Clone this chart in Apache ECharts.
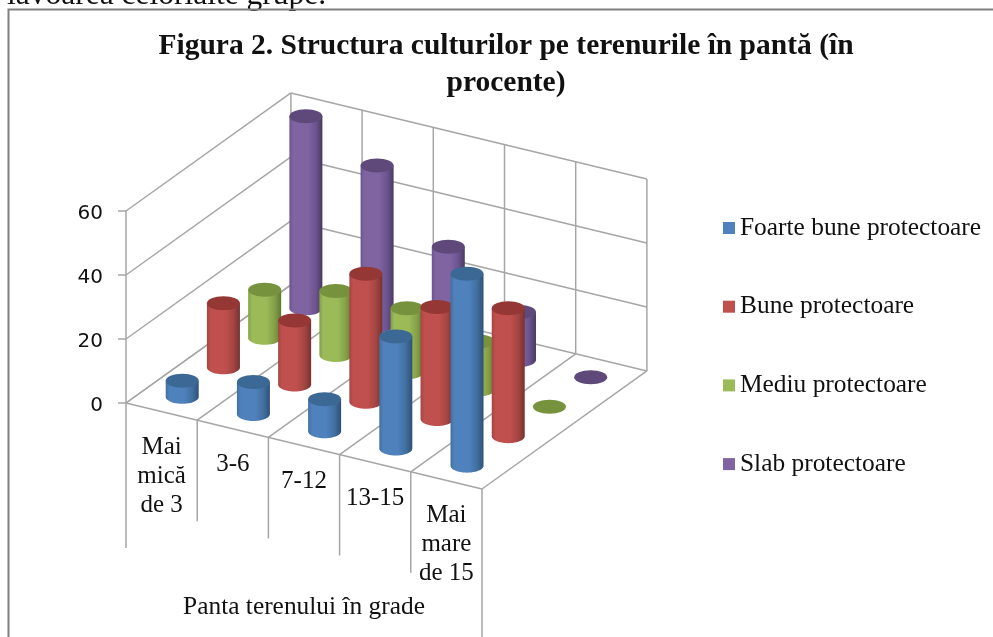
<!DOCTYPE html>
<html><head><meta charset="utf-8">
<style>html,body{margin:0;padding:0;background:#fff}#c{width:993px;height:637px}</style>
<script src="https://cdn.jsdelivr.net/npm/echarts@6/dist/echarts.min.js"></script>
</head><body><div id="c"></div>
<script>
const categories = ['Mai\nmică\nde 3', '3-6', '7-12', '13-15', 'Mai\nmare\nde 15'];
const valueTicks = [0, 20, 40, 60];
const foarteBune = [5, 10, 10, 35, 60];
const bune = [20, 20, 40, 35, 40];
const mediu = [15, 20, 20, 15, 0];
const slab = [60, 50, 30, 15, 0];
const seriesNames = ['Foarte bune protectoare', 'Bune protectoare', 'Mediu protectoare', 'Slab protectoare'];
const seriesValues = [foarteBune, bune, mediu, slab];
const palette = [
  {base:'#4f81bd', top:'#3c6896', edge:'#2f5078', left:'#41709f'},
  {base:'#c0504d', top:'#953735', edge:'#763230', left:'#a54543'},
  {base:'#9bbb59', top:'#76923c', edge:'#5f7a2f', left:'#84a048'},
  {base:'#8064a2', top:'#5f497a', edge:'#4a3a60', left:'#6c5490'}
];
const axisName = 'Panta terenului în grade';
const titleText = 'Figura 2. Structura culturilor pe terenurile în pantă (în\nprocente)';
const topText = 'lavoarea celorlalte grupe.';
const FONT = '"Liberation Serif"';
const LINE = '#a6a6a6';

const nC = categories.length, nS = seriesValues.length;
const dx = 0.579, dCat = 5.375, dSer = 9.22;
function P(api, c, s, v){ return api.coord([c + s*dx, v - c*dCat + s*dSer]); }

function line(p, q, w){
  return {type:'line', shape:{x1:p[0],y1:p[1],x2:q[0],y2:q[1]}, style:{stroke:LINE, lineWidth:w||1.5}, silent:true};
}
function renderFrame(params, api){
  const ch = [];
  const vMax = valueTicks[valueTicks.length-1];
  valueTicks.forEach(v=>{
    ch.push(line(P(api,0,0,v),P(api,0,nS,v)));
    ch.push(line(P(api,0,nS,v),P(api,nC,nS,v)));
  });
  for(let c=0;c<=nC;c++){
    ch.push(line(P(api,c,nS,0),P(api,c,nS,vMax)));
    ch.push(line(P(api,c,0,0),P(api,c,nS,0)));
  }
  ch.push(line(P(api,0,0,0),P(api,nC,0,0)));
  for(let c=0;c<=nC;c++){
    const p = P(api,c,0,0);
    const len = c===0 ? 145 : (c===nC ? 150 : 101);
    ch.push(line(p,[p[0],p[1]+len]));
  }
  categories.forEach((t,c)=>{
    const p = P(api,c+0.5,0,0);
    ch.push({type:'text', silent:true, style:{text:t, x:p[0], y:p[1]+21, align:'center', verticalAlign:'top',
      font:'25px '+FONT, lineHeight:29, fill:'#111'}});
  });
  const m = P(api,2.5,0,0);
  ch.push({type:'text', silent:true, style:{text:axisName, x:m[0], y:607, align:'center', verticalAlign:'middle',
    font:'25.4px '+FONT, fill:'#111'}});
  return {type:'group', children:ch};
}
function renderCyl(si){
  return function(params, api){
    const c = api.value(0), v = api.value(2), s = si;
    const base = P(api,c+0.5,s+0.5,0), top = P(api,c+0.5,s+0.5,v);
    const rx = 16.5, ry = 7, pal = palette[s], ch = [];
    if(v>0){
      const pts = [[base[0]-rx,top[1]],[base[0]+rx,top[1]]];
      for(let i=0;i<=24;i++){ const a=Math.PI*i/24; pts.push([base[0]+rx*Math.cos(a),base[1]+ry*Math.sin(a)]); }
      ch.push({type:'polygon', silent:true, shape:{points:pts}, style:{fill:new echarts.graphic.LinearGradient(0,0,1,0,[
        {offset:0,color:pal.left},{offset:0.12,color:pal.base},{offset:0.55,color:pal.base},{offset:0.8,color:pal.left},{offset:1,color:pal.edge}])}});
    }
    ch.push({type:'ellipse', silent:true, shape:{cx:top[0],cy:top[1],rx:rx,ry:ry}, style:{fill:pal.top}});
    return {type:'group', children:ch};
  };
}
const series = [{
  type:'custom', name:'__frame', z:1, silent:true, clip:false,
  renderItem:renderFrame, data:[[0,0,0]], encode:{x:0,y:2}, tooltip:{show:false}
}];
seriesNames.forEach((name,s)=>{
  series.push({
    type:'custom', name, z:5-s+1, clip:false, silent:true,
    itemStyle:{color:palette[s].base},
    renderItem:renderCyl(s),
    encode:{x:0,y:2},
    data:seriesValues[s].map((v,c)=>[c,s,v])
  });
});
const chart = echarts.init(document.getElementById('c'),null,{renderer:'canvas'});
chart.setOption({
  animation:false,
  backgroundColor:'#fff',
  title:{text:titleText, left:501, top:23, textAlign:'center',
    textStyle:{fontFamily:FONT, fontWeight:'bold', fontSize:29.5, lineHeight:37, color:'#111'}},
  legend:{data:seriesNames, orient:'vertical', left:718, top:210, icon:'rect', itemWidth:12, itemHeight:12, itemGap:52.7,
    selectedMode:false, textStyle:{fontFamily:FONT, fontSize:25.4, color:'#111', lineHeight:26}},
  grid:{left:126, top:211, width:356, height:192, containLabel:false},
  xAxis:{type:'value', min:0, max:nC, show:false},
  yAxis:{type:'value', min:valueTicks[0], max:valueTicks[3], interval:20, z:1,
    axisLine:{show:true,lineStyle:{color:LINE,width:1.5}},
    axisTick:{show:true,length:8,lineStyle:{color:LINE,width:1.5}},
    axisLabel:{margin:23, fontFamily:'"DejaVu Sans"', fontSize:20, color:'#111', verticalAlign:'top', lineHeight:5},
    splitLine:{show:false}},
  graphic:[
    {type:'polyline', silent:true, z:10, shape:{points:[[8.5,637],[8.5,9.5],[993,9.5]]}, style:{fill:null, stroke:'#808080', lineWidth:2}},
    {type:'text', silent:true, z:0, style:{text:topText, x:7, y:12, verticalAlign:'bottom', font:'31.5px '+FONT, fill:'#111'}}
  ],
  series
});
</script></body></html>
